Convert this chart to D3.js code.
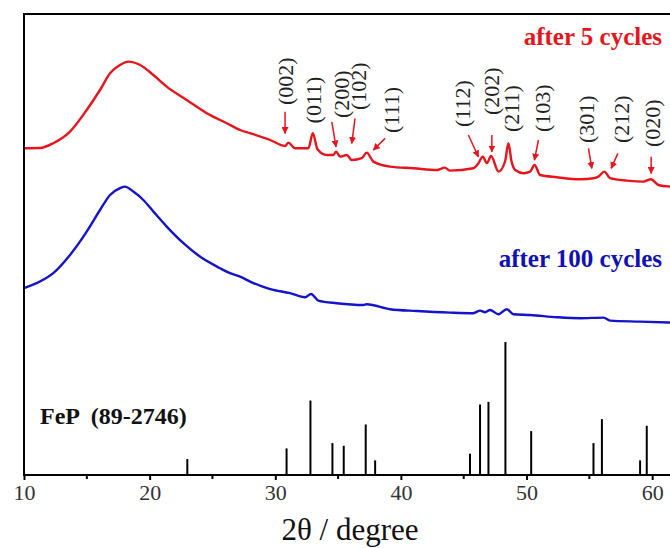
<!DOCTYPE html>
<html>
<head>
<meta charset="utf-8">
<script src="https://cdn.jsdelivr.net/npm/d3@7"></script>
<style>
  body { margin: 0; background: #fff; }
  svg { display: block; font-family: "Liberation Serif", "Times New Roman", serif; }
</style>
</head>
<body>
<svg class="xrd" width="670" height="548"></svg>
<script>
// 2theta (deg) / intensity (a.u.), after 5 cycles
var cycle5Angle = [10.0, 11.27, 12.33, 13.66, 14.99, 16.05, 16.85, 17.64, 18.3, 19.24,
  20.3, 21.36, 22.95, 24.55, 26.14, 27.2, 28.0, 29.6, 30.78, 31.04,
  31.58, 32.64, 32.99, 33.36, 34.1, 34.63, 34.84, 35.16, 35.69, 36.09,
  36.89, 37.28, 37.81, 39.14, 41.0, 42.86, 43.5, 43.9, 45.77, 46.17,
  46.52, 46.84, 47.18, 47.77, 48.3, 48.56, 48.8, 49.1, 49.76, 50.29,
  50.64, 51.08, 52.41, 54.27, 55.33, 55.72, 56.2, 56.65, 57.98, 59.31,
  59.9, 60.5, 61.43];
var cycle5Counts = [1634, 1635, 1659, 1717, 1825, 1925, 2009, 2050, 2067, 2050,
  2000, 1942, 1875, 1809, 1759, 1725, 1709, 1675, 1645, 1662,
  1634, 1634, 1709, 1629, 1600, 1600, 1617, 1592, 1600, 1575,
  1584, 1612, 1567, 1542, 1534, 1525, 1537, 1522, 1534, 1559,
  1592, 1559, 1595, 1517, 1570, 1659, 1570, 1525, 1509, 1517,
  1550, 1500, 1489, 1479, 1484, 1492, 1517, 1484, 1472, 1467,
  1479, 1450, 1442];

// after 100 cycles
var cycle100Angle = [10.0, 11.0, 12.33, 13.66, 14.99, 16.05, 16.85, 17.64, 18.04, 18.7,
  19.5, 20.3, 21.36, 22.69, 24.0, 25.6, 26.4, 27.2, 28.0, 29.6,
  31.18, 32.37, 32.85, 33.43, 34.9, 37.0, 37.28, 39.14, 41.27, 43.92,
  45.77, 46.3, 46.7, 47.1, 47.77, 48.43, 48.96, 50.29, 52.41, 54.27,
  56.12, 56.65, 59.04, 61.43];
var cycle100Counts = [934, 959, 1009, 1100, 1217, 1325, 1400, 1434, 1442, 1417,
  1375, 1317, 1242, 1159, 1092, 1034, 1009, 992, 967, 929,
  909, 889, 905, 872, 859, 850, 854, 829, 820, 812,
  809, 822, 814, 825, 804, 829, 804, 800, 789, 784,
  787, 772, 767, 762];

// FeP reference card 89-2746 (relative intensity)
var refAngle = [23.0, 30.9, 32.8, 34.55, 35.45, 37.2, 37.95, 45.5, 46.3, 46.97,
  48.32, 50.37, 55.33, 56.0, 59.04, 59.57];
var refIntensity = [12, 20, 56, 24, 22, 38, 11, 16, 53, 55,
  100, 33, 24, 42, 11, 37];

// reflection labels on the 5-cycle scan
var hklLabels = ['(002)', '(011)', '(200)', '(102)', '(111)', '(112)',
  '(202)', '(211)', '(103)', '(301)', '(212)', '(020)'];
var hklAngle = [30.84, 33.09, 35.29, 36.67, 39.27, 44.93, 47.24, 48.83, 51.35, 54.85, 57.59, 60.1];
var hklBase = [1850, 1758, 1785, 1825, 1710, 1740, 1800, 1715, 1715, 1660, 1660, 1640];

// arrows: from (angle, counts) to (angle, counts)
var arrowFrom = [[30.78, 1816], [34.5, 1766], [36.35, 1783], [38.74, 1683], [45.37, 1700],
  [47.24, 1700], [50.95, 1675], [54.93, 1633], [57.27, 1608], [59.92, 1591]];
var arrowTo = [[30.78, 1708], [34.84, 1641], [36.09, 1658], [37.81, 1625], [46.17, 1591],
  [47.24, 1616], [50.63, 1575], [55.2, 1533], [56.74, 1533], [59.92, 1508]];

var xTicks = [10, 20, 30, 40, 50, 60];
var xMinor = [15, 25, 35, 45, 55];

var red = '#e6141c';
var blue = '#1414c8';

var plotLeft = 24, plotTop = 14, plotBottom = 475, plotRight = 671;

var x = d3.scaleLinear()
  .domain([10, 61.5])
  .range([plotLeft, plotRight]);

var y = d3.scaleLinear()
  .domain([0, 2305])
  .range([plotBottom, plotBottom - 461]);

var yRef = d3.scaleLinear()
  .domain([0, 100])
  .range([plotBottom, plotBottom - 133]);

var svg = d3.select('svg.xrd');

svg.append('defs').append('marker')
  .attr('id', 'head')
  .attr('viewBox', '0 0 10 10')
  .attr('refX', 9).attr('refY', 5)
  .attr('markerWidth', 7).attr('markerHeight', 7)
  .attr('markerUnits', 'userSpaceOnUse')
  .attr('orient', 'auto')
  .append('path')
    .attr('d', 'M0,0 L10,5 L0,10 z')
    .attr('fill', red);

var line = d3.line()
  .curve(d3.curveMonotoneX)
  .x(function(d) { return x(d[0]); })
  .y(function(d) { return y(d[1]); });

var scans = [
  { color: red, pts: d3.zip(cycle5Angle, cycle5Counts) },
  { color: blue, pts: d3.zip(cycle100Angle, cycle100Counts) }
];

svg.selectAll('path.scan')
  .data(scans)
  .enter()
    .append('path')
      .attr('class', 'scan')
      .attr('d', function(d) { return line(d.pts); })
      .attr('fill', 'none')
      .attr('stroke', function(d) { return d.color; })
      .attr('stroke-width', 2.4)
      .attr('stroke-linejoin', 'round');

// reference sticks
svg.selectAll('line.stick')
  .data(d3.zip(refAngle, refIntensity))
  .enter()
    .append('line')
      .attr('class', 'stick')
      .attr('x1', function(d) { return x(d[0]); })
      .attr('x2', function(d) { return x(d[0]); })
      .attr('y1', yRef(0))
      .attr('y2', function(d) { return yRef(d[1]); })
      .attr('stroke', '#000')
      .attr('stroke-width', 2);

// axes frame
var axis = d3.axisBottom(x)
  .tickValues(xTicks)
  .tickSize(5)
  .tickPadding(4)
  .tickFormat(d3.format('d'));

var gx = svg.append('g')
  .attr('transform', 'translate(0,' + plotBottom + ')')
  .call(axis);
gx.select('.domain').remove();
gx.selectAll('.tick line').attr('stroke', '#000').attr('stroke-width', 2);
gx.selectAll('.tick text')
  .attr('font-size', 22)
  .attr('font-family', '"Liberation Serif", serif')
  .attr('fill', '#333');

gx.selectAll('line.minor')
  .data(xMinor)
  .enter()
    .append('line')
      .attr('class', 'minor')
      .attr('x1', function(d) { return x(d); })
      .attr('x2', function(d) { return x(d); })
      .attr('y1', 0).attr('y2', 4)
      .attr('stroke', '#000').attr('stroke-width', 2);

svg.append('path')
  .attr('d', 'M' + plotRight + ',' + plotTop + 'H' + plotLeft + 'V' + plotBottom + 'H' + plotRight)
  .attr('fill', 'none')
  .attr('stroke', '#000')
  .attr('stroke-width', 2);

svg.append('text')
  .attr('x', 350)
  .attr('y', 540)
  .attr('text-anchor', 'middle')
  .attr('font-size', 31)
  .attr('fill', '#111')
  .text('2θ / degree');

// hkl labels, rotated
svg.selectAll('text.hkl')
  .data(d3.zip(hklLabels, hklAngle, hklBase))
  .enter()
    .append('text')
      .attr('class', 'hkl')
      .attr('transform', function(d) {
        return 'translate(' + (x(d[1]) + 7) + ',' + y(d[2]) + ') rotate(-90)';
      })
      .attr('font-size', 22)
      .attr('fill', '#222')
      .text(function(d) { return d[0]; });

svg.selectAll('line.arrow')
  .data(d3.zip(arrowFrom, arrowTo))
  .enter()
    .append('line')
      .attr('class', 'arrow')
      .attr('x1', function(d) { return x(d[0][0]); })
      .attr('y1', function(d) { return y(d[0][1]); })
      .attr('x2', function(d) { return x(d[1][0]); })
      .attr('y2', function(d) { return y(d[1][1]); })
      .attr('stroke', red)
      .attr('stroke-width', 1.5)
      .attr('marker-end', 'url(#head)');

// series names
svg.append('text')
  .attr('x', 662).attr('y', 45)
  .attr('text-anchor', 'end')
  .attr('font-size', 25).attr('font-weight', 'bold')
  .attr('fill', red)
  .text('after 5 cycles');

svg.append('text')
  .attr('x', 662).attr('y', 267)
  .attr('text-anchor', 'end')
  .attr('font-size', 25).attr('font-weight', 'bold')
  .attr('fill', '#1010b4')
  .text('after 100 cycles');

svg.append('text')
  .attr('x', 40).attr('y', 424)
  .attr('font-size', 24).attr('font-weight', 'bold')
  .attr('fill', '#111')
  .attr('xml:space', 'preserve')
  .text('FeP  (89-2746)');
</script>
</body>
</html>
